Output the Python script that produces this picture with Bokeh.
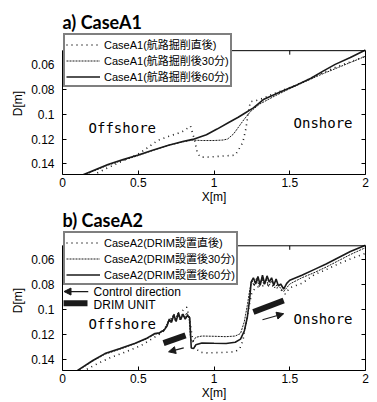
from bokeh.plotting import figure
from bokeh.layouts import column
from bokeh.models import (Range1d, Legend, LegendItem, LinearAxis, Label, Arrow, Span,
                          NormalHead, FixedTicker, CustomJSTickFormatter)
from bokeh.embed import file_html
from bokeh.resources import INLINE

# ---------------- data ----------------
X_TICKS = [0, 0.5, 1, 1.5, 2]
Y_TICKS = [0.06, 0.08, 0.1, 0.12, 0.14]
Y_BOX = (0.049, 0.1485)          # depth range of the axes box (top, bottom)

LABELS_A1 = ["CaseA1(航路掘削直後)", "CaseA1(航路掘削後30分)", "CaseA1(航路掘削後60分)"]
LABELS_A2 = ["CaseA2(DRIM設置直後)", "CaseA2(DRIM設置後30分)", "CaseA2(DRIM設置後60分)"]

# Case A1 : immediately after dredging
a1_t0_x = [0.20, 0.30, 0.40, 0.50, 0.55, 0.63, 0.71, 0.76, 0.80, 0.845, 0.87, 0.89, 0.91, 0.96, 1.02,
           1.08, 1.14, 1.16, 1.19, 1.21, 1.22, 1.23, 1.24, 1.28, 1.33, 1.37, 1.45, 1.55, 1.65, 1.72,
           1.80, 1.90, 2.00]
a1_t0_y = [0.149, 0.143, 0.1375, 0.132, 0.128, 0.121, 0.1174, 0.1155, 0.1135, 0.1096, 0.120, 0.131,
           0.1345, 0.1345, 0.134, 0.1335, 0.133, 0.129, 0.1228, 0.112, 0.104, 0.0964, 0.090, 0.089,
           0.087, 0.0848, 0.081, 0.0763, 0.0705, 0.0665, 0.0625, 0.058, 0.0535]
# Case A1 : 30 min
a1_t30_x = [0.12, 0.20, 0.30, 0.40, 0.50, 0.60, 0.70, 0.80, 0.86, 0.92, 1.00, 1.06, 1.09, 1.13,
            1.17, 1.20, 1.24, 1.30, 1.40, 1.50, 1.60, 1.70, 1.80, 1.90, 2.00]
a1_t30_y = [0.1505, 0.146, 0.141, 0.137, 0.1333, 0.129, 0.125, 0.1222, 0.1208, 0.1212, 0.1212,
            0.1208, 0.120, 0.1158, 0.109, 0.104, 0.098, 0.092, 0.0855, 0.0795, 0.0740, 0.0685,
            0.0635, 0.0585, 0.0535]
# Case A1 : 60 min
a1_t60_x = [0.10, 0.20, 0.30, 0.40, 0.50, 0.60, 0.70, 0.80, 0.86, 0.95, 1.02, 1.10, 1.16, 1.20,
            1.26, 1.33, 1.44, 1.55, 1.64, 1.72, 1.80, 1.90, 2.00]
a1_t60_y = [0.1505, 0.1455, 0.1405, 0.1365, 0.1329, 0.1288, 0.125, 0.1218, 0.1203, 0.1165, 0.112,
            0.1065, 0.1025, 0.0995, 0.095, 0.088, 0.082, 0.0763, 0.0712, 0.0654, 0.060, 0.0545, 0.0485]

# Case A2 : immediately after DRIM installation
a2_t0_x = [0.10, 0.16, 0.24, 0.32, 0.42, 0.52, 0.60, 0.66, 0.70, 0.74, 0.78, 0.82, 0.84, 0.86,
           0.88, 0.91, 0.96, 1.02, 1.08, 1.14, 1.17, 1.19, 1.21, 1.23, 1.25, 1.28, 1.32, 1.36,
           1.40, 1.44, 1.47, 1.50, 1.58, 1.66, 1.74, 1.82, 1.90, 2.00]
a2_t0_y = [0.1505, 0.1475, 0.1425, 0.138, 0.1335, 0.1285, 0.1225, 0.118, 0.110, 0.1035, 0.102,
           0.098, 0.108, 0.125, 0.131, 0.134, 0.1345, 0.1342, 0.134, 0.1335, 0.131, 0.125, 0.112,
           0.098, 0.086, 0.082, 0.081, 0.080, 0.0815, 0.084, 0.0875, 0.0825, 0.079, 0.0722,
           0.068, 0.0635, 0.0595, 0.055]
# Case A2 : 30 min
a2_t30_x = [0.08, 0.13, 0.20, 0.28, 0.38, 0.48, 0.56, 0.61, 0.64, 0.66, 0.68, 0.70, 0.715, 0.73,
            0.745, 0.76, 0.775, 0.79, 0.805, 0.82, 0.835, 0.845, 0.86, 0.88, 0.92, 1.00, 1.08,
            1.14, 1.175, 1.20, 1.22, 1.235, 1.25, 1.265, 1.28, 1.30, 1.315, 1.33, 1.345, 1.36,
            1.38, 1.40, 1.42, 1.44, 1.46, 1.50, 1.58, 1.66, 1.74, 1.82, 1.90, 2.00]
a2_t30_y = [0.1505, 0.1465, 0.141, 0.1355, 0.1315, 0.127, 0.123, 0.1195, 0.119, 0.117, 0.114,
            0.1085, 0.1105, 0.1045, 0.109, 0.103, 0.108, 0.1035, 0.1065, 0.1025, 0.1055, 0.123,
            0.1255, 0.122, 0.121, 0.1212, 0.1215, 0.121, 0.119, 0.1096, 0.0965, 0.085, 0.0765,
            0.081, 0.075, 0.0815, 0.0745, 0.080, 0.0755, 0.0815, 0.077, 0.0825, 0.0795, 0.083,
            0.0855, 0.0795, 0.0745, 0.0705, 0.066, 0.061, 0.056, 0.0505]
# Case A2 : 60 min
a2_t60_x = [0.08, 0.13, 0.20, 0.28, 0.38, 0.48, 0.56, 0.61, 0.64, 0.655, 0.67, 0.69, 0.705, 0.72,
            0.735, 0.75, 0.765, 0.78, 0.795, 0.81, 0.825, 0.84, 0.85, 0.865, 0.88, 0.92, 1.00,
            1.08, 1.14, 1.175, 1.20, 1.22, 1.235, 1.245, 1.26, 1.275, 1.29, 1.305, 1.32, 1.335,
            1.35, 1.365, 1.38, 1.395, 1.41, 1.425, 1.44, 1.46, 1.48, 1.50, 1.58, 1.66, 1.74,
            1.82, 1.90, 2.00]
a2_t60_y = [0.150, 0.146, 0.1405, 0.135, 0.131, 0.1267, 0.1225, 0.119, 0.1185, 0.1172, 0.1165,
            0.113, 0.1075, 0.110, 0.104, 0.1095, 0.1025, 0.108, 0.1035, 0.1075, 0.1045, 0.1065,
            0.1305, 0.131, 0.128, 0.1265, 0.1268, 0.127, 0.126, 0.1235, 0.117, 0.106, 0.092,
            0.078, 0.0745, 0.0795, 0.0735, 0.0805, 0.0725, 0.0795, 0.073, 0.078, 0.0745, 0.0805,
            0.0755, 0.081, 0.0795, 0.0835, 0.079, 0.0765, 0.0725, 0.068, 0.0635, 0.0585, 0.0535,
            0.0485]

# DRIM units (thick bars) in case A2: first entry is the key bar beside "DRIM UNIT"
drim_x0 = [0.007, 0.667, 1.26]
drim_y0 = [0.0948, 0.1267, 0.1018]
drim_x1 = [0.165, 0.812, 1.46]
drim_y1 = [0.0948, 0.1205, 0.0926]
# control-direction arrows in case A2: first entry is the key arrow
arr_x0 = [0.17, 0.80, 1.32]
arr_y0 = [0.0855, 0.1305, 0.108]
arr_x1 = [0.01, 0.70, 1.46]
arr_y1 = [0.0855, 0.1336, 0.1032]

# ---------------- style ----------------
TICK_FONT = "Liberation Sans Narrow, Liberation Sans, Arial, sans-serif"
TITLE_FONT = "Lato, Liberation Sans, sans-serif"
LEG_FONT = "Liberation Sans Narrow, Liberation Sans, Noto Sans CJK JP"
INK = "#1a1a1a"
BLANK = CustomJSTickFormatter(code="return '';")


def make_panel(title, series, labels, y_top, frame_h, title_pad):
    p = figure(frame_width=303, frame_height=frame_h,
               x_range=Range1d(0, 2), y_range=Range1d(Y_BOX[1], y_top),
               output_backend="svg", toolbar_location=None, title=title,
               min_border_left=62, min_border_right=8, min_border_top=0,
               min_border_bottom=0)
    p.xgrid.visible = False
    p.ygrid.visible = False
    p.outline_line_color = None
    p.background_fill_color = "white"

    p.title.text_font = TITLE_FONT
    p.title.text_font_size = "18px"
    p.title.text_font_style = "bold"
    p.title.text_color = "black"
    p.title.standoff = 0
    p.title.align = "left"
    p.title.padding = dict(left=0, right=0, top=title_pad, bottom=0)

    fmt = CustomJSTickFormatter(code="return tick.toString();")
    xa, ya = p.xaxis[0], p.yaxis[0]
    xa.ticker = FixedTicker(ticks=X_TICKS)
    ya.ticker = FixedTicker(ticks=Y_TICKS)
    ya.bounds = Y_BOX
    for ax in (xa, ya):
        ax.formatter = fmt
        ax.major_tick_in = 4
        ax.major_tick_out = 0
        ax.minor_tick_in = 0
        ax.minor_tick_out = 0
        ax.axis_line_color = "black"
        ax.major_tick_line_color = "black"
        ax.major_label_text_font = TICK_FONT
        ax.major_label_text_font_size = "12px"
        ax.major_label_text_color = "black"
        ax.axis_label_text_font = TICK_FONT
        ax.axis_label_text_font_size = "12px"
        ax.axis_label_text_font_style = "normal"
        ax.axis_label_text_color = "black"
    xa.axis_label = "X[m]"
    xa.major_label_standoff = 3
    xa.axis_label_standoff = 0
    ya.axis_label = "D[m]"
    ya.major_label_standoff = 8
    ya.axis_label_standoff = 3

    right = LinearAxis(ticker=FixedTicker(ticks=Y_TICKS), formatter=BLANK, bounds=Y_BOX,
                       major_tick_in=4, major_tick_out=0, minor_tick_in=0, minor_tick_out=0,
                       major_label_standoff=0, axis_line_color="black",
                       major_tick_line_color="black")
    p.add_layout(right, "right")
    # top edge of the axes box with inward ticks
    p.add_layout(Span(location=Y_BOX[0], dimension="width", line_color="black", line_width=1))
    tick_len = 4 * (Y_BOX[1] - y_top) / frame_h
    p.segment(X_TICKS, [Y_BOX[0]] * len(X_TICKS), X_TICKS,
              [Y_BOX[0] + tick_len] * len(X_TICKS), line_color="black", line_width=1)

    styles = [dict(line_dash="1 4", line_width=1.6),
              dict(line_dash="2 1", line_width=1.0),
              dict(line_dash="solid", line_width=1.6)]
    rends = []
    for (xs, ys), st in zip(series, styles):
        rends.append(p.line(xs, ys, line_color=INK, **st))

    items = [LegendItem(label=lab, renderers=[r]) for lab, r in zip(labels, rends)]
    leg = Legend(items=items, location="top_left", orientation="vertical",
                 border_line_color="black", border_line_width=2,
                 background_fill_color="white", background_fill_alpha=1.0,
                 padding=1, spacing=0, margin=1, label_standoff=4,
                 glyph_width=34, glyph_height=13, label_height=13,
                 label_text_font=LEG_FONT, label_text_font_size="11px",
                 label_text_line_height=1.0, label_text_color="black")
    p.add_layout(leg)

    p.add_layout(Label(x=0.172, y=0.1112, text="Offshore", text_font="DejaVu Sans Mono",
                       text_font_size="14px", text_baseline="middle", text_color="black"))
    p.add_layout(Label(x=1.525, y=0.1073, text="Onshore", text_font="DejaVu Sans Mono",
                       text_font_size="14px", text_baseline="middle", text_color="black"))
    return p


p1 = make_panel("a) CaseA1",
                [(a1_t0_x, a1_t0_y), (a1_t30_x, a1_t30_y), (a1_t60_x, a1_t60_y)],
                LABELS_A1, 0.0344, 142, 8)
p2 = make_panel("b) CaseA2",
                [(a2_t0_x, a2_t0_y), (a2_t30_x, a2_t30_y), (a2_t60_x, a2_t60_y)],
                LABELS_A2, 0.0368, 140, 0)

p2.segment(drim_x0, drim_y0, drim_x1, drim_y1, line_width=6, line_color=INK, line_cap="butt")
for xs, ys, xe, ye in zip(arr_x0, arr_y0, arr_x1, arr_y1):
    p2.add_layout(Arrow(end=NormalHead(size=7, fill_color=INK, line_color=INK),
                        x_start=xs, y_start=ys, x_end=xe, y_end=ye,
                        line_color=INK, line_width=1.2))
p2.add_layout(Label(x=0.205, y=0.0855, text="Control direction", text_font=TICK_FONT,
                    text_font_size="12px", text_baseline="middle", text_color="black"))
p2.add_layout(Label(x=0.205, y=0.0962, text="DRIM UNIT", text_font=TICK_FONT,
                    text_font_size="12px", text_baseline="middle", text_color="black"))

layout = column(p1, p2, spacing=0)
open("out.html", "w").write(file_html(layout, INLINE))
